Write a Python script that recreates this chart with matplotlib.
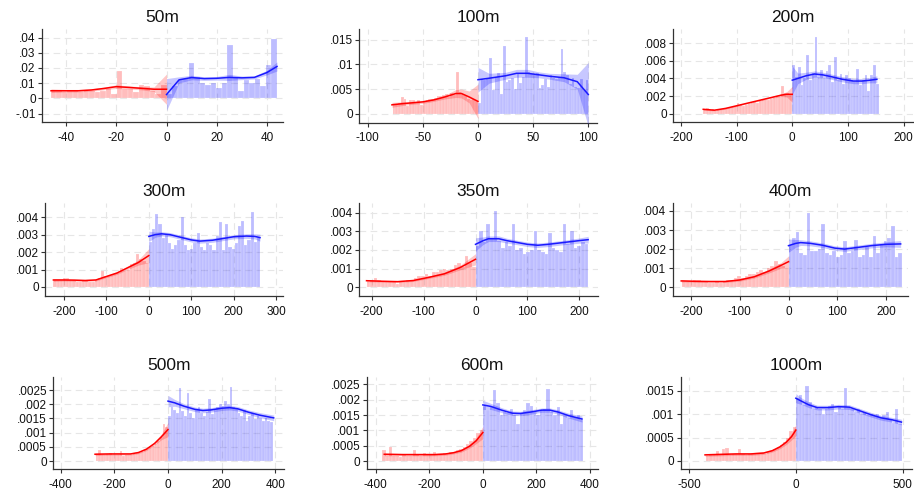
import numpy as np
import matplotlib.pyplot as plt

plt.rcParams['font.family'] = ['Liberation Sans', 'DejaVu Sans']

titles = ['50m', '100m', '200m', '300m', '350m', '400m', '500m', '600m', '1000m']

# histogram bin widths and the unit each panel's numbers are typed in
bin_w = [2.2, 2.5, 5, 7.5, 7, 7.5, 10, 12.5, 15]
units = [1e-3, 1e-4, 1e-4, 1e-4, 1e-4, 1e-4, 1e-5, 1e-5, 1e-5]

# --- 50m ---
h50_l = [5, 5, 4, 5, 5, 4, 5, 5, 4, 5, 6, 3, 18, 6, 6, 4, 9, 8, 5, 3, 9]
h50_r = [3, 8, 12, 13, 23, 14, 10, 9, 10, 7, 10, 35, 14, 5, 12, 10, 13, 8, 22, 39]
fx50_l = [-46, -40, -35, -30, -25, -20, -15, -10, -5, 0]
fy50_l = [5.0, 5.0, 5.0, 5.5, 6.5, 7.7, 7.2, 6.6, 6.0, 6.0]
ci50_l = [1.2, 0.8, 0.8, 0.8, 0.9, 1.2, 1.0, 1.0, 1.5, 10.0]
fx50_r = [0, 5, 10, 15, 20, 25, 30, 35, 40, 44]
fy50_r = [2.5, 12.2, 13.7, 13.0, 13.2, 13.8, 13.5, 13.8, 17.0, 21.0]
ci50_r = [10.5, 2.0, 1.5, 1.2, 1.2, 2.0, 1.2, 1.0, 1.5, 3.0]

# --- 100m ---
h100_l = [18, 20, 22, 33, 30, 15, 28, 28, 22, 27, 18, 25, 28, 30, 30, 32, 35, 35, 38, 40,
          33, 42, 38, 85, 45, 40, 38, 30, 28, 30, 25]
h100_r = [22, 70, 68, 72, 114, 48, 75, 82, 40, 138, 65, 68, 72, 50, 80, 62, 75, 155, 85, 80,
          78, 82, 52, 58, 70, 55, 78, 72, 70, 72, 132, 85, 78, 60, 72, 55, 52, 70, 48, 68]
fx100_l = [-78, -70, -60, -50, -40, -30, -20, -15, -8, 0]
fy100_l = [18, 20, 22, 24, 28, 34, 41, 41, 34, 25]
ci100_l = [5, 4, 3, 3, 3, 4, 8, 9, 12, 35]
fx100_r = [0, 10, 25, 35, 45, 55, 65, 78, 90, 100]
fy100_r = [69, 72, 77, 82, 82, 79, 76, 73, 65, 39]
ci100_r = [25, 10, 7, 8, 8, 6, 6, 8, 15, 65]

# --- 200m ---
h200_l = [5, 6, 4, 5, 3, 4, 5, 6, 7, 6, 8, 9, 12, 10, 9, 10, 11, 12, 13, 12,
          14, 15, 16, 15, 17, 18, 20, 19, 31, 24, 23, 22]
h200_r = [55, 42, 53, 32, 40, 66, 38, 46, 87, 42, 50, 40, 48, 55, 36, 64, 38, 45, 34, 44,
          40, 38, 36, 51, 33, 38, 44, 26, 44, 55, 34]
fx200_l = [-160, -140, -120, -100, -80, -60, -40, -20, -10, 0]
fy200_l = [5, 4, 6, 9, 12, 15, 18, 21, 22, 22]
ci200_l = [1, 0.8, 0.8, 0.8, 0.8, 0.8, 1, 1.5, 3, 9]
fx200_r = [0, 10, 25, 40, 55, 70, 90, 110, 125, 140, 152]
fy200_r = [38, 40, 43, 45, 44, 42, 39, 37, 37, 38, 39]
ci200_r = [16, 6, 4, 3.5, 3, 3, 3, 3, 3, 3, 4]

# --- 300m ---
h300_l = [4, 4, 4, 5, 5, 4, 4, 3, 3, 4, 4, 3, 3, 4, 5, 9, 6, 6, 7, 8,
          8, 11, 9, 10, 13, 14, 19, 16, 15, 14]
h300_r = [26, 33, 42, 36, 28, 30, 25, 22, 24, 27, 40, 24, 21, 22, 25, 31, 23, 21, 25, 24,
          21, 29, 37, 21, 36, 23, 22, 25, 35, 38, 24, 27, 43, 26, 28]
fx300_l = [-225, -200, -175, -150, -125, -100, -75, -50, -25, 0]
fy300_l = [4.0, 4.0, 3.9, 3.7, 4.0, 6.0, 8.0, 11.0, 14.0, 18.0]
ci300_l = [0.8, 0.6, 0.6, 0.6, 0.6, 0.7, 0.8, 1.0, 1.5, 4.0]
fx300_r = [0, 15, 30, 50, 75, 100, 120, 150, 175, 200, 230, 250, 262]
fy300_r = [29, 30, 30.5, 30, 28.5, 27, 26.3, 26.8, 27.8, 28.8, 29.2, 29, 28.3]
ci300_r = [3, 1.5, 1.2, 1.2, 1.2, 1.2, 1.2, 1.2, 1.2, 1.2, 1.3, 1.5, 2]

# --- 350m ---
h350_l = [3, 4, 5, 4, 3, 3, 3, 3, 2, 3, 3, 4, 4, 5, 6, 6, 7, 6, 8, 8,
          9, 10, 9, 10, 12, 13, 11, 17, 13, 11]
h350_r = [22, 30, 24, 34, 26, 41, 25, 21, 24, 22, 34, 20, 21, 18, 19, 20, 30, 20, 19, 18,
          29, 21, 20, 19, 34, 23, 30, 21, 22, 24, 23]
fx350_l = [-210, -180, -150, -120, -90, -60, -30, 0]
fy350_l = [3.5, 3.2, 3.0, 3.6, 5.3, 7.2, 10.5, 15.0]
ci350_l = [0.6, 0.5, 0.5, 0.5, 0.6, 0.8, 1.2, 3.0]
fx350_r = [0, 15, 25, 45, 60, 80, 100, 120, 140, 170, 200, 217]
fy350_r = [23, 25, 26, 26, 25, 24, 23, 22.5, 23, 24, 25, 25.5]
ci350_r = [3.5, 2, 1.5, 1.5, 1.3, 1.2, 1.2, 1.2, 1.2, 1.2, 1.4, 1.8]

# --- 400m ---
h400_l = [3, 3, 3, 4, 4, 3, 3, 2, 2, 3, 2, 3, 4, 4, 5, 6, 5, 6, 7, 7,
          8, 9, 8, 10, 11, 14, 12, 11, 10]
h400_r = [22, 26, 29, 18, 17, 39, 19, 19, 20, 33, 18, 17, 19, 16, 17, 24, 18, 19, 25, 16,
          17, 21, 16, 27, 18, 22, 24, 26, 32, 16, 18]
fx400_l = [-220, -190, -160, -130, -100, -70, -40, -15, 0]
fy400_l = [3.3, 3.1, 3.0, 3.0, 3.8, 5.5, 8.5, 11.5, 13.4]
ci400_l = [0.6, 0.5, 0.5, 0.5, 0.6, 0.7, 1.0, 1.5, 3.0]
fx400_r = [0, 15, 25, 45, 70, 95, 115, 140, 170, 200, 230]
fy400_r = [21.8, 23, 23.4, 23, 22, 20.5, 20, 20.8, 21.8, 22.5, 22.7]
ci400_r = [3.5, 2, 1.5, 1.3, 1.2, 1.2, 1.2, 1.2, 1.2, 1.3, 1.8]

# --- 500m ---
h500_l = [22, 40, 20, 22, 24, 28, 22, 20, 22, 35, 18, 20, 22, 21, 25, 30, 28, 32, 38, 42,
          48, 52, 60, 70, 85, 130, 120]
h500_r = [160, 190, 180, 170, 258, 175, 160, 240, 170, 150, 180, 190, 170, 160, 172, 220, 165,
          180, 190, 200, 195, 210, 200, 262, 190, 182, 170, 160, 180, 140, 158, 168, 148, 158,
          150, 142, 150, 140, 138]
fx500_l = [-272, -220, -180, -140, -110, -80, -50, -25, 0]
fy500_l = [24, 25, 25, 25, 30, 42, 62, 85, 111]
ci500_l = [5, 4, 4, 4, 4, 5, 6, 10, 25]
fx500_r = [0, 25, 60, 100, 130, 160, 200, 230, 260, 300, 340, 394]
fy500_r = [211, 205, 193, 182, 178, 180, 186, 188, 184, 172, 162, 152]
ci500_r = [20, 12, 9, 8, 8, 8, 8, 8, 8, 8, 9, 10]

# --- 600m ---
h600_l = [35, 15, 45, 15, 18, 12, 20, 15, 18, 35, 22, 18, 25, 20, 22, 28, 20, 22, 25, 22,
          28, 30, 35, 40, 45, 55, 65, 75, 90, 100]
h600_r = [180, 165, 175, 232, 190, 150, 160, 155, 170, 150, 120, 155, 165, 190, 180, 160, 150,
          165, 170, 235, 160, 150, 175, 120, 150, 140, 165, 145, 150, 135]
fx600_l = [-368, -300, -240, -180, -140, -110, -80, -50, -25, 0]
fy600_l = [22, 21, 21, 21, 23, 27, 34, 48, 66, 93]
ci600_l = [5, 4, 4, 4, 4, 4, 5, 6, 9, 20]
fx600_r = [0, 30, 70, 110, 140, 180, 220, 250, 280, 320, 370]
fy600_r = [183, 178, 166, 156, 155, 160, 166, 166, 160, 148, 137]
ci600_r = [15, 10, 8, 7, 7, 7, 7, 7, 7, 8, 10]

# --- 1000m ---
h1000_l = [10, 12, 15, 22, 12, 25, 28, 12, 15, 14, 25, 15, 12, 15, 18, 15, 16, 18, 15, 20,
           22, 25, 30, 35, 40, 50, 65, 72]
h1000_r = [135, 140, 120, 160, 125, 110, 115, 112, 100, 110, 118, 122, 105, 118, 112, 155, 115,
           110, 105, 112, 100, 105, 98, 100, 95, 100, 92, 98, 104, 90, 82, 110, 80]
fx1000_l = [-425, -350, -280, -210, -150, -110, -75, -45, -20, 0]
fy1000_l = [13, 14, 15, 15, 17, 22, 30, 40, 52, 66]
ci1000_l = [3, 3, 3, 3, 3, 3, 4, 5, 7, 12]
fx1000_r = [0, 25, 60, 100, 150, 200, 250, 300, 350, 400, 450, 494]
fy1000_r = [134, 128, 120, 114, 114, 116, 115, 107, 99, 92, 88, 83]
ci1000_r = [10, 7, 6, 5, 5, 5, 5, 5, 5, 5, 5, 6]

# axis ticks
xticks = [[-40, -20, 0, 20, 40], [-100, -50, 0, 50, 100], [-200, -100, 0, 100, 200],
          [-200, -100, 0, 100, 200, 300], [-200, -100, 0, 100, 200], [-200, -100, 0, 100, 200],
          [-400, -200, 0, 200, 400], [-400, -200, 0, 200, 400], [-500, 0, 500]]
yticks = [[-0.01, 0, 0.01, 0.02, 0.03, 0.04], [0, 0.005, 0.01, 0.015],
          [0, 0.002, 0.004, 0.006, 0.008], [0, 0.001, 0.002, 0.003, 0.004],
          [0, 0.001, 0.002, 0.003, 0.004], [0, 0.001, 0.002, 0.003, 0.004],
          [0, 0.0005, 0.001, 0.0015, 0.002, 0.0025], [0, 0.0005, 0.001, 0.0015, 0.002, 0.0025],
          [0, 0.0005, 0.001, 0.0015]]

panels = [
    (h50_l, h50_r, fx50_l, fy50_l, ci50_l, fx50_r, fy50_r, ci50_r),
    (h100_l, h100_r, fx100_l, fy100_l, ci100_l, fx100_r, fy100_r, ci100_r),
    (h200_l, h200_r, fx200_l, fy200_l, ci200_l, fx200_r, fy200_r, ci200_r),
    (h300_l, h300_r, fx300_l, fy300_l, ci300_l, fx300_r, fy300_r, ci300_r),
    (h350_l, h350_r, fx350_l, fy350_l, ci350_l, fx350_r, fy350_r, ci350_r),
    (h400_l, h400_r, fx400_l, fy400_l, ci400_l, fx400_r, fy400_r, ci400_r),
    (h500_l, h500_r, fx500_l, fy500_l, ci500_l, fx500_r, fy500_r, ci500_r),
    (h600_l, h600_r, fx600_l, fy600_l, ci600_l, fx600_r, fy600_r, ci600_r),
    (h1000_l, h1000_r, fx1000_l, fy1000_l, ci1000_l, fx1000_r, fy1000_r, ci1000_r),
]

# layout in pixels: left, right, top, bottom of each plot region, plus limits
boxes = [(42, 283, 29, 122), (359.3, 597, 29, 122.7), (673.3, 913, 29, 122),
         (45, 283.3, 203.3, 296), (359, 597.7, 203.3, 296), (672.7, 908.3, 203.3, 296),
         (53.3, 284.3, 376.7, 469), (366.7, 597.7, 376.7, 469), (680.7, 911.7, 376.7, 469)]
xlims = [(-49.6, 46.4), (-107.6, 107.9), (-213.8, 217), (-244.8, 317), (-224.5, 235.4),
         (-237.5, 245.7), (-427.6, 433.6), (-433.6, 428.7), (-538.8, 542)]
ylims = [(-0.0156, 0.0457), (-0.00183, 0.0172), (-0.00094, 0.0096), (-0.00052, 0.0048),
         (-0.00047, 0.0045), (-0.00046, 0.0044), (-0.00028, 0.00297), (-0.00026, 0.00275),
         (-0.000172, 0.0018)]


def stata_fmt(v, pos=None):
    if abs(v) < 1e-12:
        return '0'
    s = '%g' % v
    return s.replace('0.', '.', 1)


W, H = 914, 494
fig = plt.figure(figsize=(W / 100, H / 100), dpi=100)

for i, p in enumerate(panels):
    hl, hr, fxl, fyl, cil, fxr, fyr, cir = p
    u = units[i]
    w = bin_w[i]
    l, r, t, b = boxes[i]
    ax = fig.add_axes([l / W, 1 - b / H, (r - l) / W, (b - t) / H])

    hl = np.array(hl) * u
    hr = np.array(hr) * u
    el = -w * len(hl) + w * np.arange(len(hl))
    er = w * np.arange(len(hr))
    ax.bar(el, hl, width=w, align='edge', facecolor=(1, 0, 0, 0.26),
           edgecolor=(1, 1, 1, 0.45), linewidth=0.3, zorder=2)
    ax.bar(er, hr, width=w, align='edge', facecolor=(0, 0, 1, 0.26),
           edgecolor=(1, 1, 1, 0.45), linewidth=0.3, zorder=2)

    fyl = np.array(fyl) * u
    fyr = np.array(fyr) * u
    cil = np.array(cil) * u
    cir = np.array(cir) * u
    ax.fill_between(fxl, fyl - cil, fyl + cil, color=(1, 0, 0, 0.22), lw=0, zorder=3)
    ax.fill_between(fxr, fyr - cir, fyr + cir, color=(0, 0, 1, 0.22), lw=0, zorder=3)
    ax.plot(fxl, fyl, color='#ff0000', lw=1.1, zorder=4)
    ax.plot(fxr, fyr, color='#1a1aff', lw=1.1, zorder=4)

    ax.set_xlim(*xlims[i])
    ax.set_ylim(*ylims[i])
    ax.set_xticks(xticks[i])
    ax.set_yticks(yticks[i])
    ax.yaxis.set_major_formatter(plt.FuncFormatter(stata_fmt))
    ax.xaxis.set_major_formatter(plt.FuncFormatter(lambda v, pos: '%d' % v))
    ax.grid(True, color='#e6e6e6', linestyle=(0, (6, 4)), linewidth=0.8, zorder=0)
    ax.set_axisbelow(True)
    for side in ['top', 'right']:
        ax.spines[side].set_visible(False)
    for side in ['left', 'bottom']:
        ax.spines[side].set_color('#333333')
        ax.spines[side].set_linewidth(0.9)
    ax.tick_params(axis='both', labelsize=8.5, length=3, width=0.8, color='#333333',
                   labelcolor='#111111')
    ax.tick_params(axis='x', pad=4)
    ax.tick_params(axis='y', pad=1.5)
    ax.set_title(titles[i], fontsize=12.5, pad=5, color='#111111')

fig.savefig('out.png', dpi=100)
